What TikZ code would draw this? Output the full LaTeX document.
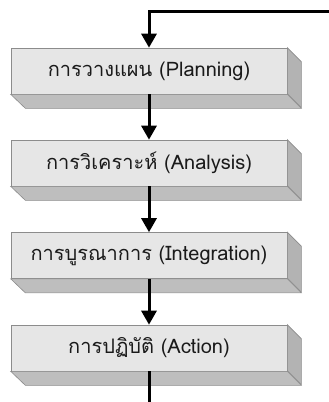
\documentclass[tikz,border=0pt]{standalone}
\usepackage{fontspec}
\newfontfamily\thaifont[Script=Thai]{Loma}
\usetikzlibrary{arrows.meta}
\definecolor{frontc}{HTML}{E6E6E6}
\definecolor{sidec}{HTML}{B3B3B3}
\definecolor{bottomc}{HTML}{BEBEBE}
\definecolor{edgec}{HTML}{8C8C8C}
\definecolor{textc}{HTML}{1A1A1A}
\tikzset{
  stagebox/.style={draw=edgec, line width=0.6pt, fill=frontc, minimum width=276pt,
    minimum height=46pt, inner sep=0pt, text=textc, font=\thaifont\fontsize{20}{24}\selectfont},
  sideface/.style={draw=edgec, line width=0.6pt, fill=sidec},
  bottomface/.style={draw=edgec, line width=0.6pt, fill=bottomc},
  flow/.style={line width=3pt, -{Triangle[width=15pt,length=14pt]}},
  plainflow/.style={line width=3pt},
}
\newcommand\myextrude[1]{%
  \path[sideface] (#1.north east) -- ++(14,14) -- ++(0,46) -- ++(-14,-14) -- cycle;
  \path[bottomface] (#1.south west) -- (#1.south east) -- ++(14,14) -- ++(-276,0) -- cycle;
}
\begin{document}
\begin{tikzpicture}[x=1pt,y=-1pt]
  \useasboundingbox (0,0) rectangle (329,402);
  \node[stagebox] (b1) at (149,71) {การวางแผน (Planning)};
  \node[stagebox] (b2) at (149,163) {การวิเคราะห์ (Analysis)};
  \node[stagebox] (b3) at (149,255.5) {การบูรณาการ (Integration)};
  \node[stagebox] (b4) at (149,348) {การปฏิบัติ (Action)};
  \myextrude{b1}
  \myextrude{b2}
  \myextrude{b3}
  \myextrude{b4}
  \coordinate (entry) at (330,11.5);
  \coordinate (exit) at (149,403);
  \draw[flow] (entry) -| (b1.north);
  \draw[flow] (b1.south) -- (b2.north);
  \draw[flow] (b2.south) -- (b3.north);
  \draw[flow] (b3.south) -- (b4.north);
  \draw[plainflow] (b4.south) -- (exit);
\end{tikzpicture}
\end{document}
